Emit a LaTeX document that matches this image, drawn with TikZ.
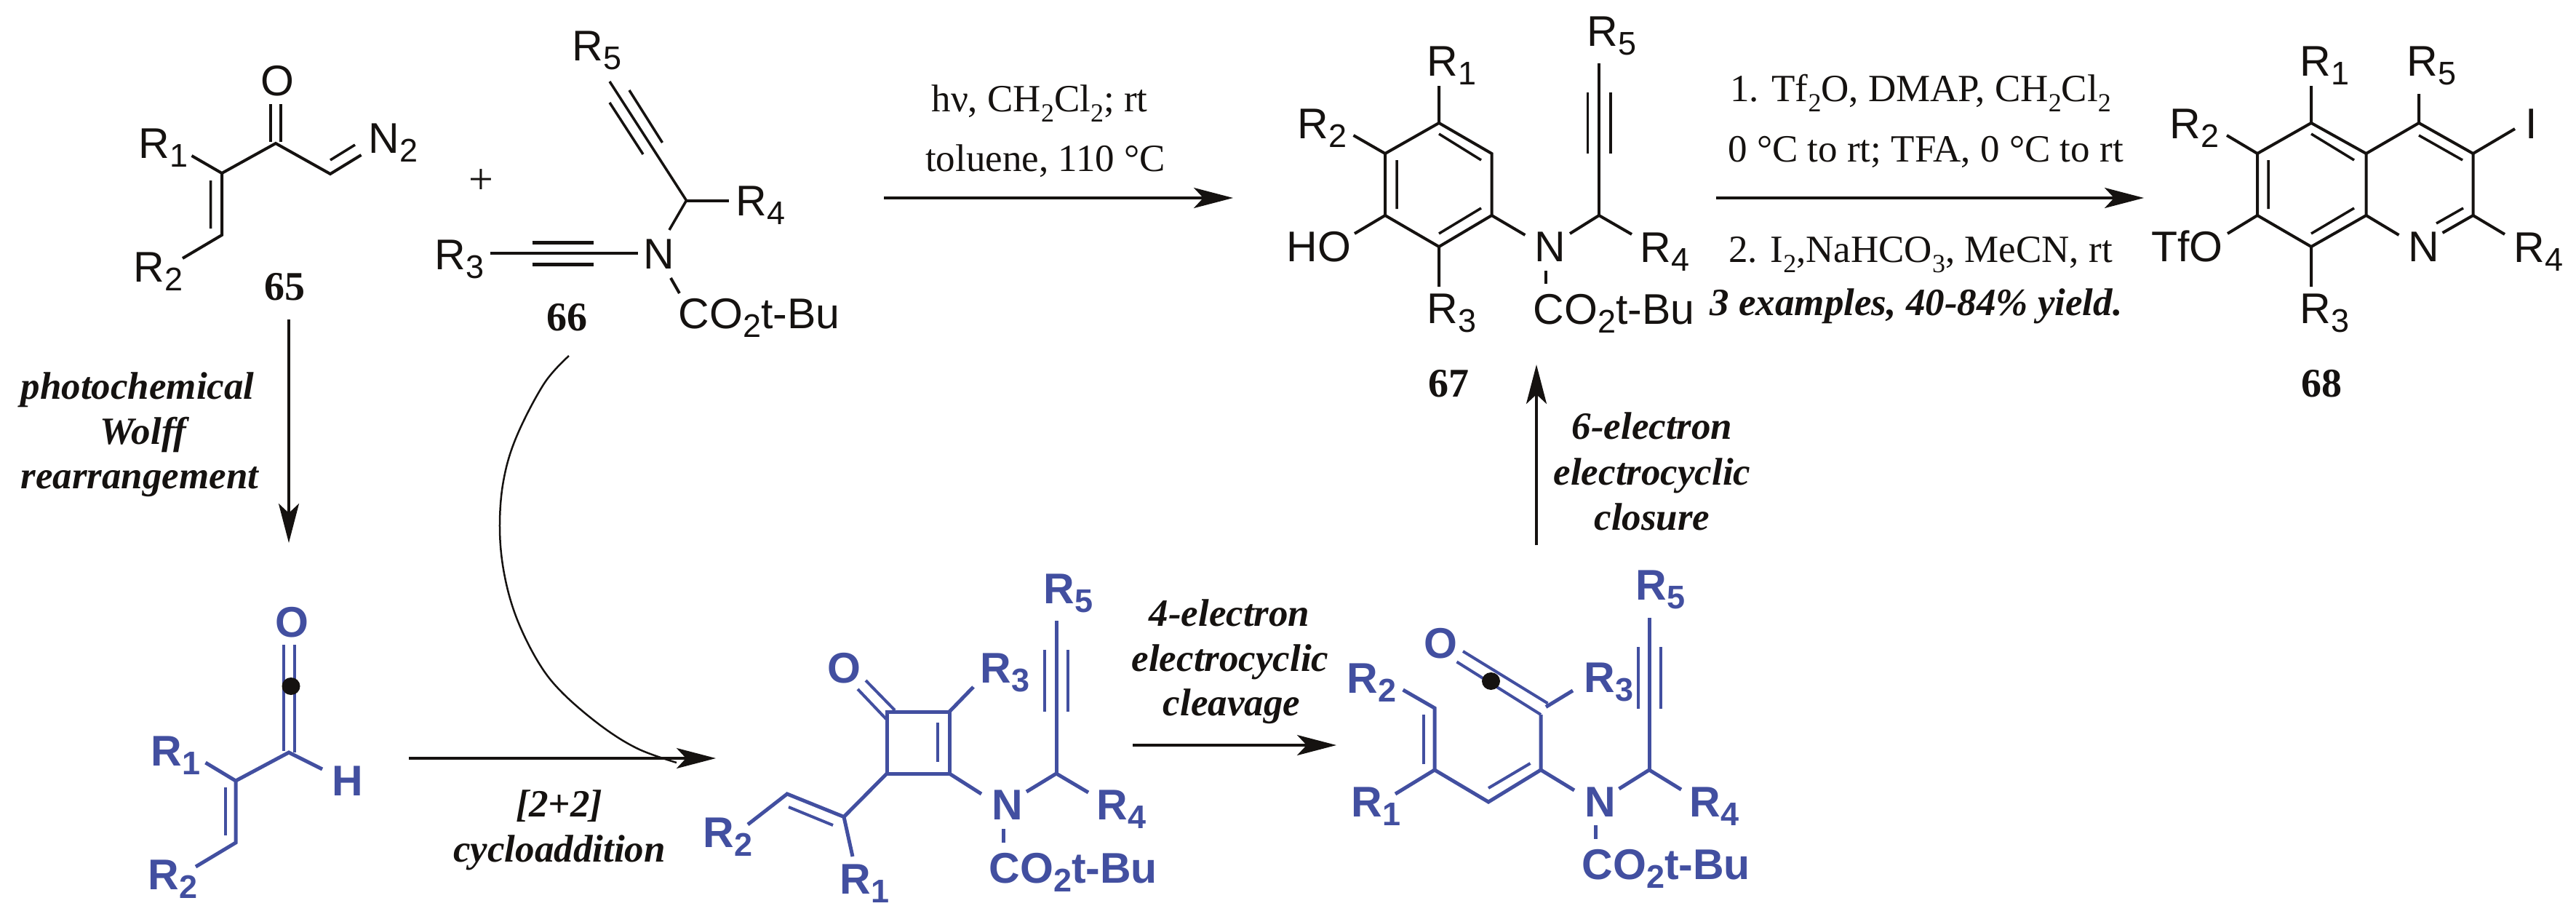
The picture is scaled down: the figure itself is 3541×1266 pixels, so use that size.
\documentclass[tikz,border=0pt]{standalone}
\usepackage{fontspec}
\usepackage{xcolor}
\usetikzlibrary{arrows.meta}
\setmainfont{Liberation Serif}
\setsansfont{Liberation Sans}
\definecolor{chemblue}{HTML}{424FA0}
\definecolor{ink}{HTML}{151210}
\newcommand{\sbs}[1]{\raisebox{-12pt}{\fontsize{45pt}{45pt}\selectfont #1}}
\newcommand{\tsb}[1]{\raisebox{-14pt}{\fontsize{36pt}{36pt}\selectfont #1}}
\tikzset{
  bond/.style={line width=4pt,ink,line cap=butt,line join=miter},
  bblue/.style={line width=5pt,chemblue,line cap=butt,line join=miter},
  atom/.style={anchor=base west,inner sep=0pt,outer sep=0pt,xshift=-2.5pt,font=\fontsize{59pt}{60pt}\selectfont\sffamily,ink},
  atomb/.style={anchor=base west,inner sep=0pt,outer sep=0pt,xshift=-2.5pt,font=\fontsize{59pt}{60pt}\selectfont\sffamily\bfseries,chemblue},
  cpd/.style={anchor=center,inner sep=0pt,font=\fontsize{56pt}{60pt}\selectfont\bfseries,ink},
  cond/.style={anchor=base,inner sep=0pt,font=\fontsize{53pt}{56pt}\selectfont,ink},
  condbi/.style={anchor=base,inner sep=0pt,font=\fontsize{53pt}{56pt}\selectfont\bfseries\itshape,ink},
  rxn/.style={line width=3.5pt,ink,-{Stealth[length=54pt,width=28pt,inset=13pt]}},
  curved/.style={line width=2.5pt,ink}
}
\begin{document}
\begin{tikzpicture}[x=1pt,y=-1pt]
\path[fill=white,use as bounding box] (0,0) rectangle (3541,1266);

% ---------- 65
\draw[bond] (263.5,214) -- (305,238) -- (379,197) -- (454,239) -- (496.5,213);
\draw[bond] (305,238) -- (305,323) -- (251,355);
\draw[bond,line width=3.5pt] (372,143) -- (372,195) (386,143) -- (386,195);
\draw[bond,line width=3.5pt] (289.5,248) -- (289.5,314) (454,220) -- (488,199);
\node[atom] (a65o) at (361,131) {O};
\node[atom] (a65r1) at (193,217) {R\sbs{1}};
\node[atom] (a65r2) at (186,387) {R\sbs{2}};
\node[atom] (a65n) at (509,210) {N\sbs{2}};
\node[cpd] (c65) at (391,394) {65};
\node[font=\fontsize{60pt}{60pt}\selectfont,ink,inner sep=0pt] (plus) at (661,250) {+};

% ---------- 66
\draw[bond,line width=3.5pt] (838,112) -- (943.5,275.5) -- (920,316);
\draw[bond,line width=3.5pt] (865,124) -- (910.5,196) (838,141) -- (884,212);
\draw[bond] (943.5,275.5) -- (1002,275.5);
\draw[bond] (674,348) -- (877,348);
\draw[bond,line width=5pt] (731.5,333) -- (816,333) (731.5,363) -- (816,363);
\draw[bond] (922,382) -- (934,403);
\node[atom] (a66r5) at (789,83) {R\sbs{5}};
\node[atom] (a66r4) at (1014,296) {R\sbs{4}};
\node[atom] (a66r3) at (600,370) {R\sbs{3}};
\node[atom] (a66n) at (887,369) {N};
\node[atom] (a66c) at (935,451) {CO\sbs{2}t-Bu};
\node[cpd] (c66) at (779,436) {66};

% ---------- 67
\draw[bond] (1978,169) -- (2050.5,211) -- (2050.5,296) -- (1978,339) -- (1904,296) -- (1904,211) -- cycle;
\draw[bond,line width=3.5pt] (1978,184) -- (2036,220) (2036,286) -- (1978,321) (1920,220) -- (1920,287);
\draw[bond] (1978,169) -- (1978,118) (1904,211) -- (1860.5,186) (1904,296) -- (1862,321) (1978,339) -- (1978,394);
\draw[bond] (2050.5,296) -- (2096.4,323) (2158,321) -- (2198,296) -- (2243,322);
\draw[bond] (2198,296) -- (2198,87);
\draw[bond,line width=3.5pt] (2182.5,127) -- (2182.5,211) (2214,127) -- (2214,211);
\draw[bond] (2125,372) -- (2125,390);
\node[atom] (a67r1) at (1964,104) {R\sbs{1}};
\node[atom] (a67r2) at (1786,190) {R\sbs{2}};
\node[atom] (a67ho) at (1771,359) {HO};
\node[atom] (a67r3) at (1964,444) {R\sbs{3}};
\node[atom] (a67n) at (2112,359) {N};
\node[atom] (a67r4) at (2257,360) {R\sbs{4}};
\node[atom] (a67r5) at (2184,63) {R\sbs{5}};
\node[atom] (a67c) at (2110,445) {CO\sbs{2}t-Bu};
\node[cpd] (c67) at (1991,527) {67};

% ---------- 68
\draw[bond] (3177,169) -- (3252.5,211) -- (3252.5,296) -- (3177,339) -- (3103,296) -- (3103,211) -- cycle;
\draw[bond] (3252.5,211) -- (3325,169) -- (3399.5,211) -- (3399.5,296) -- (3357.5,320);
\draw[bond] (3252.5,296) -- (3297.5,323);
\draw[bond,line width=3.5pt] (3177,184) -- (3236,220) (3236,286) -- (3177,321) (3118,220) -- (3118,287) (3325,186) -- (3385,220) (3386,286) -- (3349,307);
\draw[bond] (3177,169) -- (3177,118) (3325,169) -- (3325,129) (3399.5,211) -- (3457,177);
\draw[bond] (3103,211) -- (3061,186) (3103,296) -- (3062,321) (3177,339) -- (3177,394) (3399.5,296) -- (3443,322);
\node[atom] (a68r1) at (3164,104) {R\sbs{1}};
\node[atom] (a68r5) at (3311,104) {R\sbs{5}};
\node[atom] (a68i) at (3474,190) {I};
\node[atom] (a68r2) at (2985,190) {R\sbs{2}};
\node[atom] (a68tfo) at (2960,359) {TfO};
\node[atom] (a68n) at (3313,359) {N};
\node[atom] (a68r3) at (3164,444) {R\sbs{3}};
\node[atom] (a68r4) at (3458,360) {R\sbs{4}};
\node[cpd] (c68) at (3191,527) {68};

% ---------- blue enal
\draw[bblue] (282.5,1048) -- (324,1073) -- (397,1034) -- (443,1057);
\draw[bblue] (324,1073) -- (324,1158) -- (269,1191);
\draw[bblue,line width=4pt] (309.5,1082) -- (309.5,1148);
\draw[bblue,line width=4pt] (390,886) -- (390,1032) (405,886) -- (405,1034);
\fill[ink] (400,943) circle[x radius=12.5pt,y radius=12pt];
\node[atomb] (bo) at (381,875) {O};
\node[atomb] (br1) at (210,1052) {R\sbs{1}};
\node[atomb] (br2) at (206,1222) {R\sbs{2}};
\node[atomb] (bh) at (459,1093) {H};

% ---------- blue cyclobutenone
\draw[bblue] (1219,978) rectangle (1305,1063);
\draw[bblue,line width=4pt] (1289,993) -- (1289,1047);
\draw[bblue,line width=4pt] (1218,988) -- (1179,947) (1230,976) -- (1190,935);
\draw[bblue] (1305,978) -- (1338,944);
\draw[bblue] (1452,853) -- (1452,1063);
\draw[bblue,line width=4pt] (1436,893) -- (1436,978) (1468,893) -- (1468,978);
\draw[bblue] (1305,1063) -- (1349,1091) (1411,1088) -- (1452,1063) -- (1496,1089);
\draw[bblue] (1379,1139) -- (1379,1158);
\draw[bblue] (1219,1063) -- (1160,1122.5) -- (1082,1091) -- (1028,1133);
\draw[bblue,line width=4pt] (1084,1109) -- (1145,1134);
\draw[bblue] (1160,1122.5) -- (1172,1177);
\node[atomb] (cbo) at (1140,938) {O};
\node[atomb] (cbr3) at (1350,938) {R\sbs{3}};
\node[atomb] (cbr5) at (1437,829) {R\sbs{5}};
\node[atomb] (cbn) at (1366,1126) {N};
\node[atomb] (cbr4) at (1510,1126) {R\sbs{4}};
\node[atomb] (cbc) at (1362,1213) {CO\sbs{2}t-Bu};
\node[atomb] (cbr2) at (969,1164) {R\sbs{2}};
\node[atomb] (cbr1) at (1157,1228) {R\sbs{1}};

% ---------- blue triene
\draw[bblue,line width=4pt] (2002.5,909.5) -- (2118,982) (2011,895) -- (2127.5,966.5);
\fill[ink] (2049.5,936) circle[x radius=12.5pt,y radius=12pt];
\draw[bblue] (2118,982) -- (2118,1058) -- (2164,1086);
\draw[bblue] (2125,971.5) -- (2162,949);
\draw[bblue] (2267,849) -- (2267,1058);
\draw[bblue,line width=4pt] (2251.5,889) -- (2251.5,974) (2283,889) -- (2283,974);
\draw[bblue] (2225.5,1084) -- (2267,1058) -- (2311,1085);
\draw[bblue] (2118,1058) -- (2046,1102) -- (1972,1058) -- (1918,1091);
\draw[bblue,line width=4pt] (2103.5,1049) -- (2046,1083);
\draw[bblue] (1972,1058) -- (1972,973) -- (1928.6,948);
\draw[bblue,line width=4pt] (1957,982) -- (1957,1050);
\draw[bblue] (2193,1134) -- (2193,1153);
\node[atomb] (tro) at (1960,904) {O};
\node[atomb] (trr3) at (2180,951) {R\sbs{3}};
\node[atomb] (trr5) at (2251,824) {R\sbs{5}};
\node[atomb] (trr4) at (2325,1122) {R\sbs{4}};
\node[atomb] (trn) at (2181,1122) {N};
\node[atomb] (trr1) at (1860,1122) {R\sbs{1}};
\node[atomb] (trr2) at (1854,952) {R\sbs{2}};
\node[atomb] (trc) at (2177,1208) {CO\sbs{2}t-Bu};

% ---------- arrows
\coordinate (p1a) at (397,439); \coordinate (p1b) at (397,746);
\coordinate (p2a) at (1215,272); \coordinate (p2b) at (1695,272);
\coordinate (p3a) at (2359,272); \coordinate (p3b) at (2947,272);
\coordinate (p4a) at (562,1042); \coordinate (p4b) at (984,1042);
\coordinate (p5a) at (1557,1024); \coordinate (p5b) at (1837,1024);
\coordinate (p6a) at (2112,749); \coordinate (p6b) at (2112,501);
\coordinate (p7a) at (782,489); \coordinate (p7b) at (930,1048);
\draw[rxn] (p1a) -- (p1b);
\draw[rxn] (p2a) -- (p2b);
\draw[rxn] (p3a) -- (p3b);
\draw[rxn] (p4a) -- (p4b);
\draw[rxn] (p5a) -- (p5b);
\draw[rxn] (p6a) -- (p6b);
\draw[curved] plot[smooth,tension=0.6] coordinates {(p7a) (748,527) (710,600) (692,661) (687,726) (693,788) (710,849) (740,910) (773,952) (827,998) (877,1029) (p7b)};

% ---------- conditions
\node[cond] (t1) at (1429,153) {hν, CH\tsb{2}Cl\tsb{2}; rt};
\node[cond] (t2) at (1437,235) {toluene, 110 °C};
\node[cond] (t3) at (2640,139) {1. Tf\tsb{2}O, DMAP, CH\tsb{2}Cl\tsb{2}};
\node[cond] (t4) at (2647,222) {0 °C to rt; TFA, 0 °C to rt};
\node[cond] (t5) at (2640,360) {2. I\tsb{2},NaHCO\tsb{3}, MeCN, rt};
\node[condbi] (t6) at (2634,433) {3 examples, 40-84\% yield.};
\node[condbi] (t7) at (189,548) {photochemical};
\node[condbi] (t8) at (197,610) {Wolff};
\node[condbi] (t9) at (192,671) {rearrangement};
\node[condbi] (t10) at (769,1122) {[2+2]};
\node[condbi] (t11) at (769,1184) {cycloaddition};
\node[condbi] (t12) at (1690,860) {4-electron};
\node[condbi] (t13) at (1691,922) {electrocyclic};
\node[condbi] (t14) at (1693,983) {cleavage};
\node[condbi] (t15) at (2271,603) {6-electron};
\node[condbi] (t16) at (2271,666) {electrocyclic};
\node[condbi] (t17) at (2271,728) {closure};
\end{tikzpicture}
\end{document}
